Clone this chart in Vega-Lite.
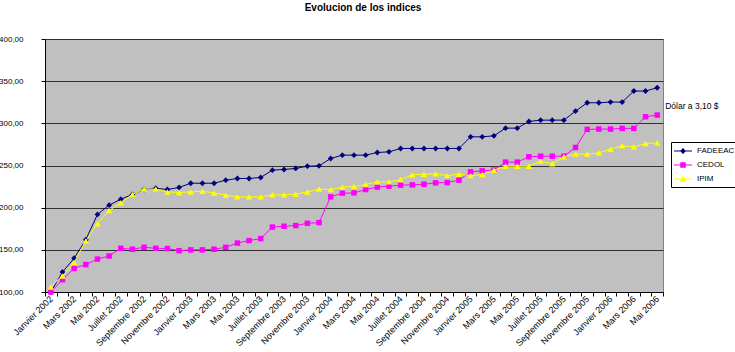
{
  "$schema": "https://vega.github.io/schema/vega-lite/v6.json",
  "width": 618,
  "height": 253,
  "autosize": {"type": "none"},
  "padding": {"left": 45, "top": 39, "right": 72, "bottom": 60},
  "background": "white",
  "title": {"text": "Evolucion de los indices", "font": "Liberation Sans", "fontSize": 10, "fontWeight": "bold", "color": "black", "anchor": "middle", "offset": 22, "dx": 9},
  "data": {"values": [
    {"mois": "Janvier 2002", "serie": "FADEEAC", "valeur": 100},
    {"mois": "Février 2002", "serie": "FADEEAC", "valeur": 123.7},
    {"mois": "Mars 2002", "serie": "FADEEAC", "valeur": 140},
    {"mois": "Avril 2002", "serie": "FADEEAC", "valeur": 162},
    {"mois": "Mai 2002", "serie": "FADEEAC", "valeur": 192},
    {"mois": "Juin 2002", "serie": "FADEEAC", "valeur": 203},
    {"mois": "Juillet 2002", "serie": "FADEEAC", "valeur": 210},
    {"mois": "Août 2002", "serie": "FADEEAC", "valeur": 215.6},
    {"mois": "Septembre 2002", "serie": "FADEEAC", "valeur": 221.5},
    {"mois": "Octobre 2002", "serie": "FADEEAC", "valeur": 223},
    {"mois": "Novembre 2002", "serie": "FADEEAC", "valeur": 221.5},
    {"mois": "Décembre 2002", "serie": "FADEEAC", "valeur": 224},
    {"mois": "Janvier 2003", "serie": "FADEEAC", "valeur": 229},
    {"mois": "Février 2003", "serie": "FADEEAC", "valeur": 229},
    {"mois": "Mars 2003", "serie": "FADEEAC", "valeur": 229},
    {"mois": "Avril 2003", "serie": "FADEEAC", "valeur": 232.6},
    {"mois": "Mai 2003", "serie": "FADEEAC", "valeur": 234.6},
    {"mois": "Juin 2003", "serie": "FADEEAC", "valeur": 234.6},
    {"mois": "Juillet 2003", "serie": "FADEEAC", "valeur": 235.8},
    {"mois": "Août 2003", "serie": "FADEEAC", "valeur": 244.5},
    {"mois": "Septembre 2003", "serie": "FADEEAC", "valeur": 245.3},
    {"mois": "Octobre 2003", "serie": "FADEEAC", "valeur": 246.5},
    {"mois": "Novembre 2003", "serie": "FADEEAC", "valeur": 249.2},
    {"mois": "Décembre 2003", "serie": "FADEEAC", "valeur": 249.6},
    {"mois": "Janvier 2004", "serie": "FADEEAC", "valeur": 258.3},
    {"mois": "Février 2004", "serie": "FADEEAC", "valeur": 262.3},
    {"mois": "Mars 2004", "serie": "FADEEAC", "valeur": 262.3},
    {"mois": "Avril 2004", "serie": "FADEEAC", "valeur": 262.3},
    {"mois": "Mai 2004", "serie": "FADEEAC", "valeur": 265.4},
    {"mois": "Juin 2004", "serie": "FADEEAC", "valeur": 266.2},
    {"mois": "Juillet 2004", "serie": "FADEEAC", "valeur": 270.2},
    {"mois": "Août 2004", "serie": "FADEEAC", "valeur": 270.2},
    {"mois": "Septembre 2004", "serie": "FADEEAC", "valeur": 270.2},
    {"mois": "Octobre 2004", "serie": "FADEEAC", "valeur": 270.2},
    {"mois": "Novembre 2004", "serie": "FADEEAC", "valeur": 270.2},
    {"mois": "Décembre 2004", "serie": "FADEEAC", "valeur": 270.2},
    {"mois": "Janvier 2005", "serie": "FADEEAC", "valeur": 284},
    {"mois": "Février 2005", "serie": "FADEEAC", "valeur": 284},
    {"mois": "Mars 2005", "serie": "FADEEAC", "valeur": 285.2},
    {"mois": "Avril 2005", "serie": "FADEEAC", "valeur": 294.3},
    {"mois": "Mai 2005", "serie": "FADEEAC", "valeur": 294.3},
    {"mois": "Juin 2005", "serie": "FADEEAC", "valeur": 302.2},
    {"mois": "Juillet 2005", "serie": "FADEEAC", "valeur": 303.8},
    {"mois": "Août 2005", "serie": "FADEEAC", "valeur": 303.8},
    {"mois": "Septembre 2005", "serie": "FADEEAC", "valeur": 303.8},
    {"mois": "Octobre 2005", "serie": "FADEEAC", "valeur": 314.5},
    {"mois": "Novembre 2005", "serie": "FADEEAC", "valeur": 324.4},
    {"mois": "Décembre 2005", "serie": "FADEEAC", "valeur": 324.4},
    {"mois": "Janvier 2006", "serie": "FADEEAC", "valeur": 325.2},
    {"mois": "Février 2006", "serie": "FADEEAC", "valeur": 325.2},
    {"mois": "Mars 2006", "serie": "FADEEAC", "valeur": 338.3},
    {"mois": "Avril 2006", "serie": "FADEEAC", "valeur": 338.3},
    {"mois": "Mai 2006", "serie": "FADEEAC", "valeur": 342.2},
    {"mois": "Janvier 2002", "serie": "CEDOL", "valeur": 100},
    {"mois": "Février 2002", "serie": "CEDOL", "valeur": 114.6},
    {"mois": "Mars 2002", "serie": "CEDOL", "valeur": 128},
    {"mois": "Avril 2002", "serie": "CEDOL", "valeur": 132.5},
    {"mois": "Mai 2002", "serie": "CEDOL", "valeur": 139},
    {"mois": "Juin 2002", "serie": "CEDOL", "valeur": 142.7},
    {"mois": "Juillet 2002", "serie": "CEDOL", "valeur": 151.8},
    {"mois": "Août 2002", "serie": "CEDOL", "valeur": 150.7},
    {"mois": "Septembre 2002", "serie": "CEDOL", "valeur": 153},
    {"mois": "Octobre 2002", "serie": "CEDOL", "valeur": 151.8},
    {"mois": "Novembre 2002", "serie": "CEDOL", "valeur": 151.5},
    {"mois": "Décembre 2002", "serie": "CEDOL", "valeur": 149},
    {"mois": "Janvier 2003", "serie": "CEDOL", "valeur": 150},
    {"mois": "Février 2003", "serie": "CEDOL", "valeur": 150},
    {"mois": "Mars 2003", "serie": "CEDOL", "valeur": 150.7},
    {"mois": "Avril 2003", "serie": "CEDOL", "valeur": 153},
    {"mois": "Mai 2003", "serie": "CEDOL", "valeur": 158},
    {"mois": "Juin 2003", "serie": "CEDOL", "valeur": 161},
    {"mois": "Juillet 2003", "serie": "CEDOL", "valeur": 163.3},
    {"mois": "Août 2003", "serie": "CEDOL", "valeur": 177},
    {"mois": "Septembre 2003", "serie": "CEDOL", "valeur": 178},
    {"mois": "Octobre 2003", "serie": "CEDOL", "valeur": 178.8},
    {"mois": "Novembre 2003", "serie": "CEDOL", "valeur": 181.5},
    {"mois": "Décembre 2003", "serie": "CEDOL", "valeur": 182.3},
    {"mois": "Janvier 2004", "serie": "CEDOL", "valeur": 212.8},
    {"mois": "Février 2004", "serie": "CEDOL", "valeur": 217.2},
    {"mois": "Mars 2004", "serie": "CEDOL", "valeur": 217.5},
    {"mois": "Avril 2004", "serie": "CEDOL", "valeur": 221.5},
    {"mois": "Mai 2004", "serie": "CEDOL", "valeur": 224.3},
    {"mois": "Juin 2004", "serie": "CEDOL", "valeur": 225.5},
    {"mois": "Juillet 2004", "serie": "CEDOL", "valeur": 226.7},
    {"mois": "Août 2004", "serie": "CEDOL", "valeur": 227},
    {"mois": "Septembre 2004", "serie": "CEDOL", "valeur": 227.8},
    {"mois": "Octobre 2004", "serie": "CEDOL", "valeur": 229.4},
    {"mois": "Novembre 2004", "serie": "CEDOL", "valeur": 229.8},
    {"mois": "Décembre 2004", "serie": "CEDOL", "valeur": 232.6},
    {"mois": "Janvier 2005", "serie": "CEDOL", "valeur": 242.5},
    {"mois": "Février 2005", "serie": "CEDOL", "valeur": 243.7},
    {"mois": "Mars 2005", "serie": "CEDOL", "valeur": 244.5},
    {"mois": "Avril 2005", "serie": "CEDOL", "valeur": 254},
    {"mois": "Mai 2005", "serie": "CEDOL", "valeur": 254},
    {"mois": "Juin 2005", "serie": "CEDOL", "valeur": 260.3},
    {"mois": "Juillet 2005", "serie": "CEDOL", "valeur": 261},
    {"mois": "Août 2005", "serie": "CEDOL", "valeur": 261},
    {"mois": "Septembre 2005", "serie": "CEDOL", "valeur": 261},
    {"mois": "Octobre 2005", "serie": "CEDOL", "valeur": 271.4},
    {"mois": "Novembre 2005", "serie": "CEDOL", "valeur": 292.8},
    {"mois": "Décembre 2005", "serie": "CEDOL", "valeur": 293.2},
    {"mois": "Janvier 2006", "serie": "CEDOL", "valeur": 293.2},
    {"mois": "Février 2006", "serie": "CEDOL", "valeur": 294},
    {"mois": "Mars 2006", "serie": "CEDOL", "valeur": 294},
    {"mois": "Avril 2006", "serie": "CEDOL", "valeur": 307.8},
    {"mois": "Mai 2006", "serie": "CEDOL", "valeur": 309.8},
    {"mois": "Janvier 2002", "serie": "IPIM", "valeur": 106},
    {"mois": "Février 2002", "serie": "IPIM", "valeur": 119},
    {"mois": "Mars 2002", "serie": "IPIM", "valeur": 135},
    {"mois": "Avril 2002", "serie": "IPIM", "valeur": 160.5},
    {"mois": "Mai 2002", "serie": "IPIM", "valeur": 181},
    {"mois": "Juin 2002", "serie": "IPIM", "valeur": 196.6},
    {"mois": "Juillet 2002", "serie": "IPIM", "valeur": 205.7},
    {"mois": "Août 2002", "serie": "IPIM", "valeur": 215.6},
    {"mois": "Septembre 2002", "serie": "IPIM", "valeur": 222},
    {"mois": "Octobre 2002", "serie": "IPIM", "valeur": 222},
    {"mois": "Novembre 2002", "serie": "IPIM", "valeur": 218.7},
    {"mois": "Décembre 2002", "serie": "IPIM", "valeur": 218},
    {"mois": "Janvier 2003", "serie": "IPIM", "valeur": 218.7},
    {"mois": "Février 2003", "serie": "IPIM", "valeur": 219.5},
    {"mois": "Mars 2003", "serie": "IPIM", "valeur": 217.5},
    {"mois": "Avril 2003", "serie": "IPIM", "valeur": 214.8},
    {"mois": "Mai 2003", "serie": "IPIM", "valeur": 212.8},
    {"mois": "Juin 2003", "serie": "IPIM", "valeur": 212.8},
    {"mois": "Juillet 2003", "serie": "IPIM", "valeur": 212.8},
    {"mois": "Août 2003", "serie": "IPIM", "valeur": 215.2},
    {"mois": "Septembre 2003", "serie": "IPIM", "valeur": 215.2},
    {"mois": "Octobre 2003", "serie": "IPIM", "valeur": 216},
    {"mois": "Novembre 2003", "serie": "IPIM", "valeur": 218.7},
    {"mois": "Décembre 2003", "serie": "IPIM", "valeur": 222},
    {"mois": "Janvier 2004", "serie": "IPIM", "valeur": 221.5},
    {"mois": "Février 2004", "serie": "IPIM", "valeur": 224.3},
    {"mois": "Mars 2004", "serie": "IPIM", "valeur": 225},
    {"mois": "Avril 2004", "serie": "IPIM", "valeur": 227.4},
    {"mois": "Mai 2004", "serie": "IPIM", "valeur": 230.6},
    {"mois": "Juin 2004", "serie": "IPIM", "valeur": 230.6},
    {"mois": "Juillet 2004", "serie": "IPIM", "valeur": 233.4},
    {"mois": "Août 2004", "serie": "IPIM", "valeur": 239},
    {"mois": "Septembre 2004", "serie": "IPIM", "valeur": 239.7},
    {"mois": "Octobre 2004", "serie": "IPIM", "valeur": 240.1},
    {"mois": "Novembre 2004", "serie": "IPIM", "valeur": 238},
    {"mois": "Décembre 2004", "serie": "IPIM", "valeur": 239.7},
    {"mois": "Janvier 2005", "serie": "IPIM", "valeur": 238},
    {"mois": "Février 2005", "serie": "IPIM", "valeur": 239.3},
    {"mois": "Mars 2005", "serie": "IPIM", "valeur": 244.5},
    {"mois": "Avril 2005", "serie": "IPIM", "valeur": 249.2},
    {"mois": "Mai 2005", "serie": "IPIM", "valeur": 249.2},
    {"mois": "Juin 2005", "serie": "IPIM", "valeur": 249.2},
    {"mois": "Juillet 2005", "serie": "IPIM", "valeur": 255.2},
    {"mois": "Août 2005", "serie": "IPIM", "valeur": 252},
    {"mois": "Septembre 2005", "serie": "IPIM", "valeur": 260.3},
    {"mois": "Octobre 2005", "serie": "IPIM", "valeur": 263.5},
    {"mois": "Novembre 2005", "serie": "IPIM", "valeur": 263.5},
    {"mois": "Décembre 2005", "serie": "IPIM", "valeur": 265},
    {"mois": "Janvier 2006", "serie": "IPIM", "valeur": 269.4},
    {"mois": "Février 2006", "serie": "IPIM", "valeur": 273.3},
    {"mois": "Mars 2006", "serie": "IPIM", "valeur": 272.1},
    {"mois": "Avril 2006", "serie": "IPIM", "valeur": 276.1},
    {"mois": "Mai 2006", "serie": "IPIM", "valeur": 276.9}
  ]},
  "encoding": {
    "x": {
      "field": "mois", "type": "ordinal", "sort": null, "title": null,
      "scale": {"type": "band", "paddingInner": 0, "paddingOuter": 0},
      "axis": {
        "tickBand": "extent", "labelAngle": -45, "labelAlign": "right", "labelBaseline": "middle",
        "labelFontSize": 9, "labelColor": "black", "labelPadding": 1, "labelOverlap": false, "labelBound": false,
        "tickSize": 4, "tickColor": "black", "domainColor": "black", "grid": false,
        "labelExpr": "test(/^(Janvier|Mars|Mai|Juillet|Septembre|Novembre) /, datum.label) ? datum.label : ''"
      }
    },
    "y": {
      "field": "valeur", "type": "quantitative", "title": null,
      "scale": {"domain": [100, 400], "nice": false, "zero": false},
      "axis": {
        "values": [100, 150, 200, 250, 300, 350, 400],
        "labelExpr": "replace(format(datum.value, '.2f'), '.', ',')",
        "labelFontSize": 8, "labelColor": "black", "labelPadding": 18,
        "tickSize": 4, "tickColor": "black", "domainColor": "black",
        "grid": true, "gridColor": "#303030", "gridWidth": 1
      }
    }
  },
  "layer": [
    {
      "transform": [{"filter": "datum.serie === 'FADEEAC'"}],
      "mark": {"type": "line", "color": "#000080", "strokeWidth": 1, "point": {"shape": "diamond", "filled": true, "size": 34, "color": "#000080"}}
    },
    {
      "transform": [{"filter": "datum.serie === 'CEDOL'"}],
      "mark": {"type": "line", "color": "#FF00FF", "strokeWidth": 1, "point": {"shape": "square", "filled": true, "size": 30, "color": "#FF00FF"}}
    },
    {
      "transform": [{"filter": "datum.serie === 'IPIM'"}],
      "mark": {"type": "line", "color": "#FFFF00", "strokeWidth": 1, "point": {"shape": "triangle-up", "filled": true, "size": 40, "color": "#FFFF00"}}
    },
    {
      "mark": {"type": "point", "filled": true, "opacity": 0},
      "encoding": {
        "shape": {
          "field": "serie", "type": "nominal", "title": null,
          "scale": {"domain": ["FADEEAC", "CEDOL", "IPIM"], "range": [
            "M-1.2,-0.1H2.4V0.1H-1.2Z M0.6,-0.6L1.2,0L0.6,0.6L0,0Z",
            "M-1.2,-0.1H2.4V0.1H-1.2Z M0.05,-0.55H1.15V0.55H0.05Z",
            "M-1.2,-0.1H2.4V0.1H-1.2Z M0.6,-0.7L1.3,0.55L-0.1,0.55Z"
          ]}
        },
        "color": {
          "field": "serie", "type": "nominal", "title": null,
          "scale": {"domain": ["FADEEAC", "CEDOL", "IPIM"], "range": ["#000080", "#FF00FF", "#FFFF00"]}
        }
      }
    },
    {
      "data": {"values": [{"mois": "Mai 2006", "valeur": 320.5, "note": "Dólar a 3,10 $"}]},
      "mark": {"type": "text", "align": "left", "baseline": "middle", "dx": 8, "fontSize": 8.5, "color": "black"},
      "encoding": {"text": {"field": "note"}}
    }
  ],
  "config": {
    "font": "Liberation Sans",
    "view": {"fill": "#C0C0C0", "stroke": "#808080", "strokeWidth": 1},
    "legend": {
      "orient": "none", "legendX": 626, "legendY": 103,
      "strokeColor": "black", "fillColor": "white", "padding": 4,
      "symbolSize": 100, "symbolOpacity": 1, "symbolStrokeWidth": 0,
      "labelFontSize": 8, "labelColor": "black", "labelOffset": 12, "rowPadding": 5
    }
  }
}
